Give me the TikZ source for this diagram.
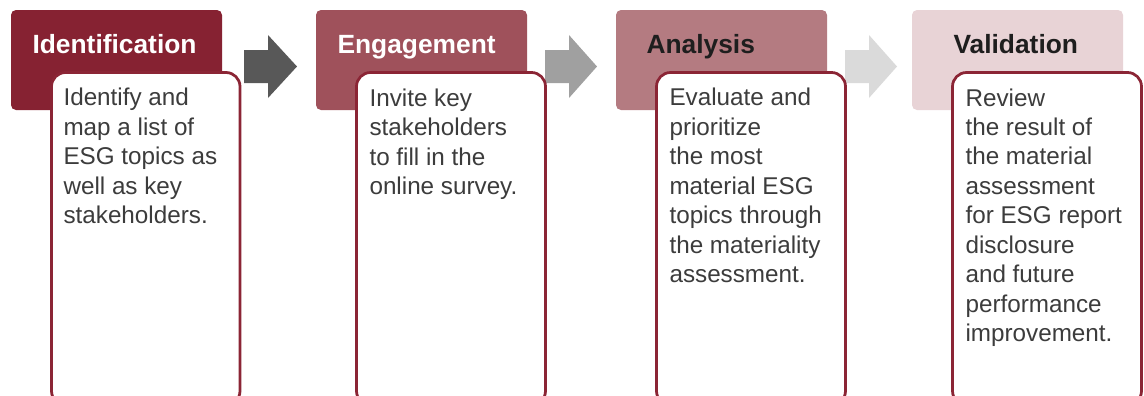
\documentclass[tikz,border=0pt]{standalone}
\usepackage{fontspec}
\setmainfont{Liberation Sans}
\usepackage{xcolor}
\usepackage{tikz}
\usetikzlibrary{positioning}

\definecolor{hdrA}{HTML}{862232}
\definecolor{hdrB}{HTML}{9F515B}
\definecolor{hdrC}{HTML}{B47B81}
\definecolor{hdrD}{HTML}{E8D3D6}
\definecolor{boxred}{HTML}{8B2535}
\definecolor{arrA}{HTML}{585858}
\definecolor{arrB}{HTML}{A0A0A0}
\definecolor{arrC}{HTML}{DADADA}
\definecolor{bodytext}{HTML}{3C3C3C}
\definecolor{darktext}{HTML}{1E1E1E}

\begin{document}
\begin{tikzpicture}[semithick]
    \tikzstyle{header}=[rounded corners=0.1cm]
    \tikzstyle{htext}=[anchor=base west, inner sep=0pt, font=\fontsize{15}{18}\selectfont\bfseries]
    \tikzstyle{descbox}=[draw=boxred, line width=0.055cm, fill=white, rounded corners=0.28cm]
    \tikzstyle{dtext}=[anchor=base west, inner sep=0pt, align=left, text=bodytext, font=\fontsize{13.8}{16.75}\selectfont]
    \useasboundingbox (0,0) rectangle (22.88,-7.9);
    % header blocks
    \fill[header, hdrA] (0.22,-0.2) rectangle (4.44,-2.2);
    \fill[header, hdrB] (6.32,-0.2) rectangle (10.54,-2.2);
    \fill[header, hdrC] (12.32,-0.2) rectangle (16.54,-2.2);
    \fill[header, hdrD] (18.24,-0.2) rectangle (22.46,-2.2);
    \node[htext, text=white] (ident) at (0.64,-1.06) {Identification};
    \node[htext, text=white] (engage) at (6.74,-1.06) {Engagement};
    \node[htext, text=darktext] (analys) at (12.92,-1.06) {Analysis};
    \node[htext, text=darktext] (valid) at (19.06,-1.06) {Validation};
    % block arrows
    \fill[arrA] (4.88,-1.0) -- (5.36,-1.0) -- (5.36,-0.7) -- (5.94,-1.33) -- (5.36,-1.96) -- (5.36,-1.66) -- (4.88,-1.66) -- cycle;
    \fill[arrB] (10.9,-1.0) -- (11.38,-1.0) -- (11.38,-0.7) -- (11.94,-1.33) -- (11.38,-1.96) -- (11.38,-1.66) -- (10.9,-1.66) -- cycle;
    \fill[arrC] (16.9,-1.0) -- (17.38,-1.0) -- (17.38,-0.7) -- (17.94,-1.33) -- (17.38,-1.96) -- (17.38,-1.66) -- (16.9,-1.66) -- cycle;
    % description boxes (text placed at baseline of its last line)
    \draw[descbox] (1.03,-1.45) rectangle (4.8,-8.1);
    \draw[descbox] (7.13,-1.45) rectangle (10.91,-8.1);
    \draw[descbox] (13.13,-1.45) rectangle (16.91,-8.1);
    \draw[descbox] (19.05,-1.45) rectangle (22.83,-8.1);
    \node[dtext] (identd) at (1.26,-4.47) {Identify and\\map a list of\\ESG topics as\\well as key\\stakeholders.};
    \node[dtext] (engaged) at (7.38,-3.89) {Invite key\\stakeholders\\to fill in the\\online survey.};
    \node[dtext] (analysd) at (13.38,-5.65) {Evaluate and\\prioritize\\the most\\material ESG\\topics through\\the materiality\\assessment.};
    \node[dtext] (validd) at (19.3,-6.83) {Review\\the result of\\the material\\assessment\\for ESG report\\disclosure\\and future\\performance\\improvement.};
\end{tikzpicture}
\end{document}
